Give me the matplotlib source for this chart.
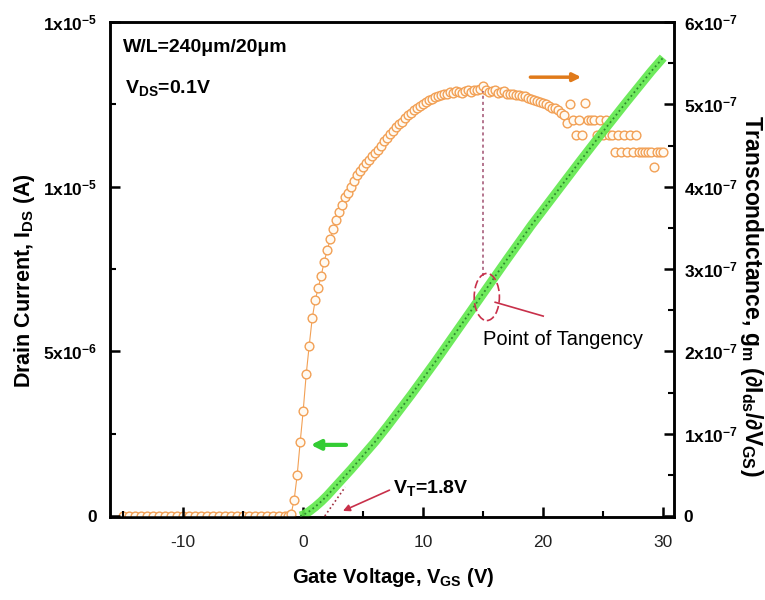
import numpy as np
import matplotlib
matplotlib.use("Agg")
import matplotlib.pyplot as plt
from matplotlib.patches import Ellipse

plt.rcParams['font.family'] = ['Liberation Sans', 'DejaVu Sans']
plt.rcParams['mathtext.fontset'] = 'custom'
plt.rcParams['mathtext.rm'] = 'Liberation Sans:bold'
plt.rcParams['mathtext.it'] = 'Liberation Sans:bold'
plt.rcParams['mathtext.bf'] = 'Liberation Sans:bold'

# ---- transconductance gm (1e-7 S), right axis ----
# off state: -15 V .. -1.5 V, 0.5 V steps
vgs_off = np.arange(-15.0, -1.49, 0.5)
gm_off = [0.0, 0.0, 0.0, 0.0, 0.0, 0.0, 0.0, 0.0, 0.0, 0.0,
          0.0, 0.0, 0.0, 0.0, 0.0, 0.0, 0.0, 0.0, 0.0, 0.0,
          0.0, 0.0, 0.0, 0.0, 0.0, 0.0, 0.0, 0.0]
# on state: -1.25 V .. 30 V, 0.25 V steps
vgs_on = np.arange(-1.25, 30.01, 0.25)
gm_on = [0.0, 0.03, 0.2, 0.5, 0.9, 1.28, 1.72, 2.07, 2.4, 2.62,
         2.77, 2.92, 3.09, 3.23, 3.36, 3.48, 3.6, 3.69, 3.78, 3.87,
         3.92, 3.99, 4.07, 4.14, 4.19, 4.24, 4.29, 4.33, 4.37, 4.41,
         4.45, 4.5, 4.55, 4.59, 4.64, 4.68, 4.72, 4.76, 4.79, 4.83,
         4.87, 4.9, 4.93, 4.95, 4.98, 5.01, 5.03, 5.05, 5.07, 5.09,
         5.1, 5.11, 5.12, 5.13, 5.15, 5.14, 5.16, 5.15, 5.14, 5.16,
         5.17, 5.15, 5.17, 5.18, 5.19, 5.22, 5.18, 5.15, 5.16, 5.17,
         5.14, 5.15, 5.16, 5.13, 5.12, 5.12, 5.11, 5.11, 5.1, 5.1,
         5.08, 5.06, 5.05, 5.04, 5.03, 5.02, 5.0, 4.98, 4.96, 4.95,
         4.93, 4.9, 4.87, 4.77, 5.0, 4.81, 4.63, 4.81, 4.63, 5.02,
         4.81, 4.81, 4.81, 4.63, 4.81, 4.63, 4.81, 4.63, 4.63, 4.42,
         4.63, 4.42, 4.63, 4.42, 4.63, 4.42, 4.63, 4.42, 4.42, 4.42,
         4.42, 4.42, 4.24, 4.42, 4.42, 4.42]

vgs_gm = np.concatenate([vgs_off, vgs_on])
gm = np.array(gm_off + gm_on) * 1e-7

# ---- drain current Ids (1e-6 A), left axis ----
vgs_id = [-0.25, 0.0, 0.5, 1.0, 1.5, 2.0, 2.5, 3.0, 4.0, 5.0, 6.0, 7.0,
          8.0, 9.0, 10.0, 11.0, 12.0, 13.0, 14.0, 15.0, 16.0, 17.0,
          18.0, 19.0, 20.0, 21.0, 22.0, 23.0, 24.0, 25.0, 26.0, 27.0,
          28.0, 29.0, 30.0]
ids_vals = [0.0, 0.03, 0.14, 0.28, 0.44, 0.62, 0.82, 1.02, 1.42, 1.84,
            2.26, 2.72, 3.2, 3.68, 4.18, 4.68, 5.2, 5.72, 6.24, 6.76,
            7.28, 7.8, 8.31, 8.82, 9.3, 9.78, 10.26, 10.74, 11.21, 11.68,
            12.14, 12.6, 13.05, 13.5, 13.92]
ids = np.array(ids_vals) * 1e-6

# extraction values
v_peak = 15.0
v_t = 1.8

left_ticks = [0, 5e-6, 1e-5, 1.5e-5]
left_labels = ['0', '5x10$^{-6}$', '1x10$^{-5}$', '1x10$^{-5}$']
right_ticks = [0, 1e-7, 2e-7, 3e-7, 4e-7, 5e-7, 6e-7]
right_labels = ['0', '1x10$^{-7}$', '2x10$^{-7}$', '3x10$^{-7}$',
                '4x10$^{-7}$', '5x10$^{-7}$', '6x10$^{-7}$']
x_ticks = [-10, 0, 10, 20, 30]

W, H = 765, 600
fig = plt.figure(figsize=(W / 100, H / 100), dpi=100)
ax = fig.add_axes([110 / W, 1 - 517 / H, 564 / W, 495 / H])
ax2 = ax.twinx()
ax.set_zorder(ax2.get_zorder() + 1)
ax.patch.set_visible(False)

orange = '#f2a055'
green_band = '#5ee84a'
green_dot = '#2e8b2e'
red = '#c8304a'

# gm curve: thin joining line over the smooth part, open circles everywhere
smooth = vgs_gm <= 21.5
ax2.plot(vgs_gm[smooth], gm[smooth], '-', color=orange, lw=0.8, zorder=2)
ax2.plot(vgs_gm, gm, 'o', ms=6.3, mfc='#fffaf2', mec=orange, mew=1.0,
         zorder=3)

# Ids curve: bright band with dark dotted core
ax.plot(vgs_id, ids, '-', color=green_band, lw=6.5, alpha=0.9,
        solid_capstyle='butt', zorder=2)
ax.plot(vgs_id, ids, ':', color=green_dot, lw=1.3, zorder=3)

ax.set_xlim(-16.1, 30.9)
ax.set_ylim(-3e-8, 1.5e-5)
ax2.set_ylim(-1.2e-9, 6e-7)

ax.set_xticks(x_ticks)
ax.set_xticks([-15, -5, 5, 15, 25], minor=True)
ax.set_xticklabels([str(t) for t in x_ticks])
ax.set_yticks(left_ticks)
ax.set_yticks([2.5e-6, 7.5e-6, 1.25e-5], minor=True)
ax.set_yticklabels(left_labels)
ax2.set_yticks(right_ticks)
ax2.set_yticks([0.5e-7, 1.5e-7, 2.5e-7, 3.5e-7, 4.5e-7, 5.5e-7], minor=True)
ax2.set_yticklabels(right_labels)

for a in (ax, ax2):
    for s in a.spines.values():
        s.set_linewidth(1.8)
ax.tick_params(which='major', direction='in', length=7, width=1.8)
ax.tick_params(which='minor', direction='in', length=4, width=1.5)
ax2.tick_params(which='major', direction='in', length=7, width=1.8)
ax2.tick_params(which='minor', direction='in', length=4, width=1.5)
ax.tick_params(axis='x', pad=13, labelsize=12.5, labelcolor='#222222')
ax.tick_params(axis='y', pad=9, labelsize=12.5)
ax2.tick_params(axis='y', pad=7, labelsize=12.5)
for lab in ax.get_yticklabels() + ax2.get_yticklabels():
    lab.set_fontweight('bold')

ax.set_xlabel('Gate Voltage, V$_{GS}$ (V)', fontsize=14.5, fontweight='bold')
ax.xaxis.set_label_coords(0.502, -0.123)
ax.xaxis.label.set_va('center')
ax.set_ylabel('Drain Current, I$_{DS}$ (A)', fontsize=15.5, fontweight='bold')
ax.yaxis.set_label_coords(-0.152, 0.477)
ax.yaxis.label.set_va('center')
ax2.set_ylabel('Transconductance, g$_m$ (∂I$_{ds}$/∂V$_{GS}$)', fontsize=16.5,
               fontweight='bold', rotation=270)
ax2.yaxis.set_label_coords(1.138, 0.447)
ax2.yaxis.label.set_va('center')
ax2.yaxis.label.set_ha('center')

# axis-direction arrows
ax.annotate('', xy=(0.4, 2.16e-6), xytext=(3.8, 2.16e-6),
            arrowprops=dict(arrowstyle='-|>', color='#33cc33', lw=3,
                            mutation_scale=14))
ax2.annotate('', xy=(23.4, 5.33e-7), xytext=(18.7, 5.33e-7),
             arrowprops=dict(arrowstyle='-|>', color='#e07a1a', lw=2.5,
                             mutation_scale=12))

# peak gm -> point of tangency
ax.plot([v_peak, v_peak], [7.3e-6, 12.9e-6], color='#a05070', lw=1.1,
        ls=(0, (2, 2)), zorder=4)
ax.add_patch(Ellipse((15.3, 6.65e-6), width=2.1, height=1.43e-6,
                     fill=False, ec=red, lw=1.2, ls=(0, (5, 2)), zorder=4))
ax.plot([20.0, 16.0], [6.07e-6, 6.49e-6], color=red, lw=1.2, zorder=4)

# tangent extrapolation to the threshold voltage
ax.plot([v_t, 3.5], [0.0, 0.88e-6], color='#a03040', lw=1.2, ls=':',
        zorder=4)
ax.annotate('', xy=(3.1, 0.12e-6), xytext=(7.4, 0.82e-6),
            arrowprops=dict(arrowstyle='-|>', color=red, lw=1.2,
                            mutation_scale=10), zorder=5)

def px(x, y):
    return x / W, 1 - y / H

fig.text(*px(123, 47), 'W/L=240μm/20μm', fontsize=14, fontweight='bold',
         va='center', ha='left')
fig.text(*px(125, 93), 'V$_{DS}$=0.1V', fontsize=14, fontweight='bold',
         va='baseline', ha='left')
fig.text(*px(393, 493), 'V$_{T}$=1.8V', fontsize=14, fontweight='bold',
         va='baseline', ha='left')
fig.text(*px(483, 345), 'Point of Tangency', fontsize=14.5,
         va='baseline', ha='left')

fig.savefig('out.png', dpi=100)
